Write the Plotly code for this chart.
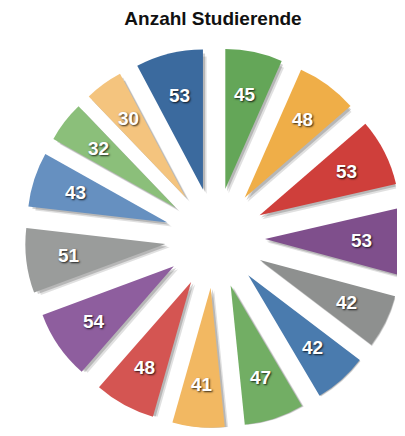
import math
import plotly.graph_objects as go

# Werte im Uhrzeigersinn, beginnend mit dem blauen Segment links oben
labels = ["A", "B", "C", "D", "E", "F", "G", "H", "I", "J", "K", "L", "M", "N", "O"]
werte = [53, 45, 48, 53, 53, 42, 42, 47, 41, 48, 54, 51, 43, 32, 30]
farben = ["#3B6A9E", "#64A658", "#EFAE48", "#CF3F3B", "#7F4F8C", "#8E908F",
          "#4A7BAE", "#72AE64", "#F2B862", "#D45552", "#8E5E9E", "#9A9C9B",
          "#6690C0", "#8BBF7A", "#F4C47E"]
titel = "Anzahl Studierende"

# die Seite hat 8px Rand, daher 397x428
W, H = 397, 428
ml, mt, mr, mb = 17, 40, 0, 8
pw = W - ml - mr
ph = H - mt - mb
pull = 0.357
start = -360 * werte[0] / sum(werte)

fig = go.Figure()

# weicher Schatten: zwei versetzte, halbtransparente Kopien
for off, alpha in [(7, 0.12), (4, 0.18)]:
    fig.add_trace(go.Pie(
        labels=labels, values=werte, sort=False, direction="clockwise",
        rotation=start, pull=pull,
        marker=dict(colors=[f"rgba(0,0,0,{alpha})"] * len(werte), line=dict(width=0)),
        textinfo="none", hoverinfo="skip", showlegend=False,
        domain=dict(x=[off / pw, 1], y=[0, 1 - off / ph]),
    ))

fig.add_trace(go.Pie(
    labels=labels, values=werte, sort=False, direction="clockwise",
    rotation=start, pull=pull,
    marker=dict(colors=farben, line=dict(width=0)),
    textinfo="none", showlegend=False,
    domain=dict(x=[0, 1], y=[0, 1]),
))

# Beschriftungen auf der Winkelhalbierenden jedes Segments
r = min(pw, ph) / (2 * (1 + pull))
summe = sum(werte)
winkel = start
for v in werte:
    mitte = math.radians(winkel + 180 * v / summe)
    winkel += 360 * v / summe
    d = 1.05 * r
    fig.add_annotation(
        x=0.5 + d * math.sin(mitte) / pw, y=0.5 + d * math.cos(mitte) / ph,
        xref="paper", yref="paper", xanchor="center", yanchor="middle",
        text=str(v), showarrow=False,
        font=dict(family="Liberation Sans, Arial, sans-serif", size=19, color="white",
                  weight="bold", shadow="1px 1px 2px rgba(0,0,0,0.8)"),
    )

fig.update_layout(
    title=dict(text=f"<b>{titel}</b>", x=205 / W, xanchor="center", y=1 - 10 / H, yanchor="middle",
               yref="container",
               font=dict(family="Liberation Sans, Arial, sans-serif", size=19, color="#111111")),
    width=W, height=H,
    margin=dict(l=ml, r=mr, t=mt, b=mb),
    paper_bgcolor="white",
    plot_bgcolor="white",
)

fig.write_html("out.html")
